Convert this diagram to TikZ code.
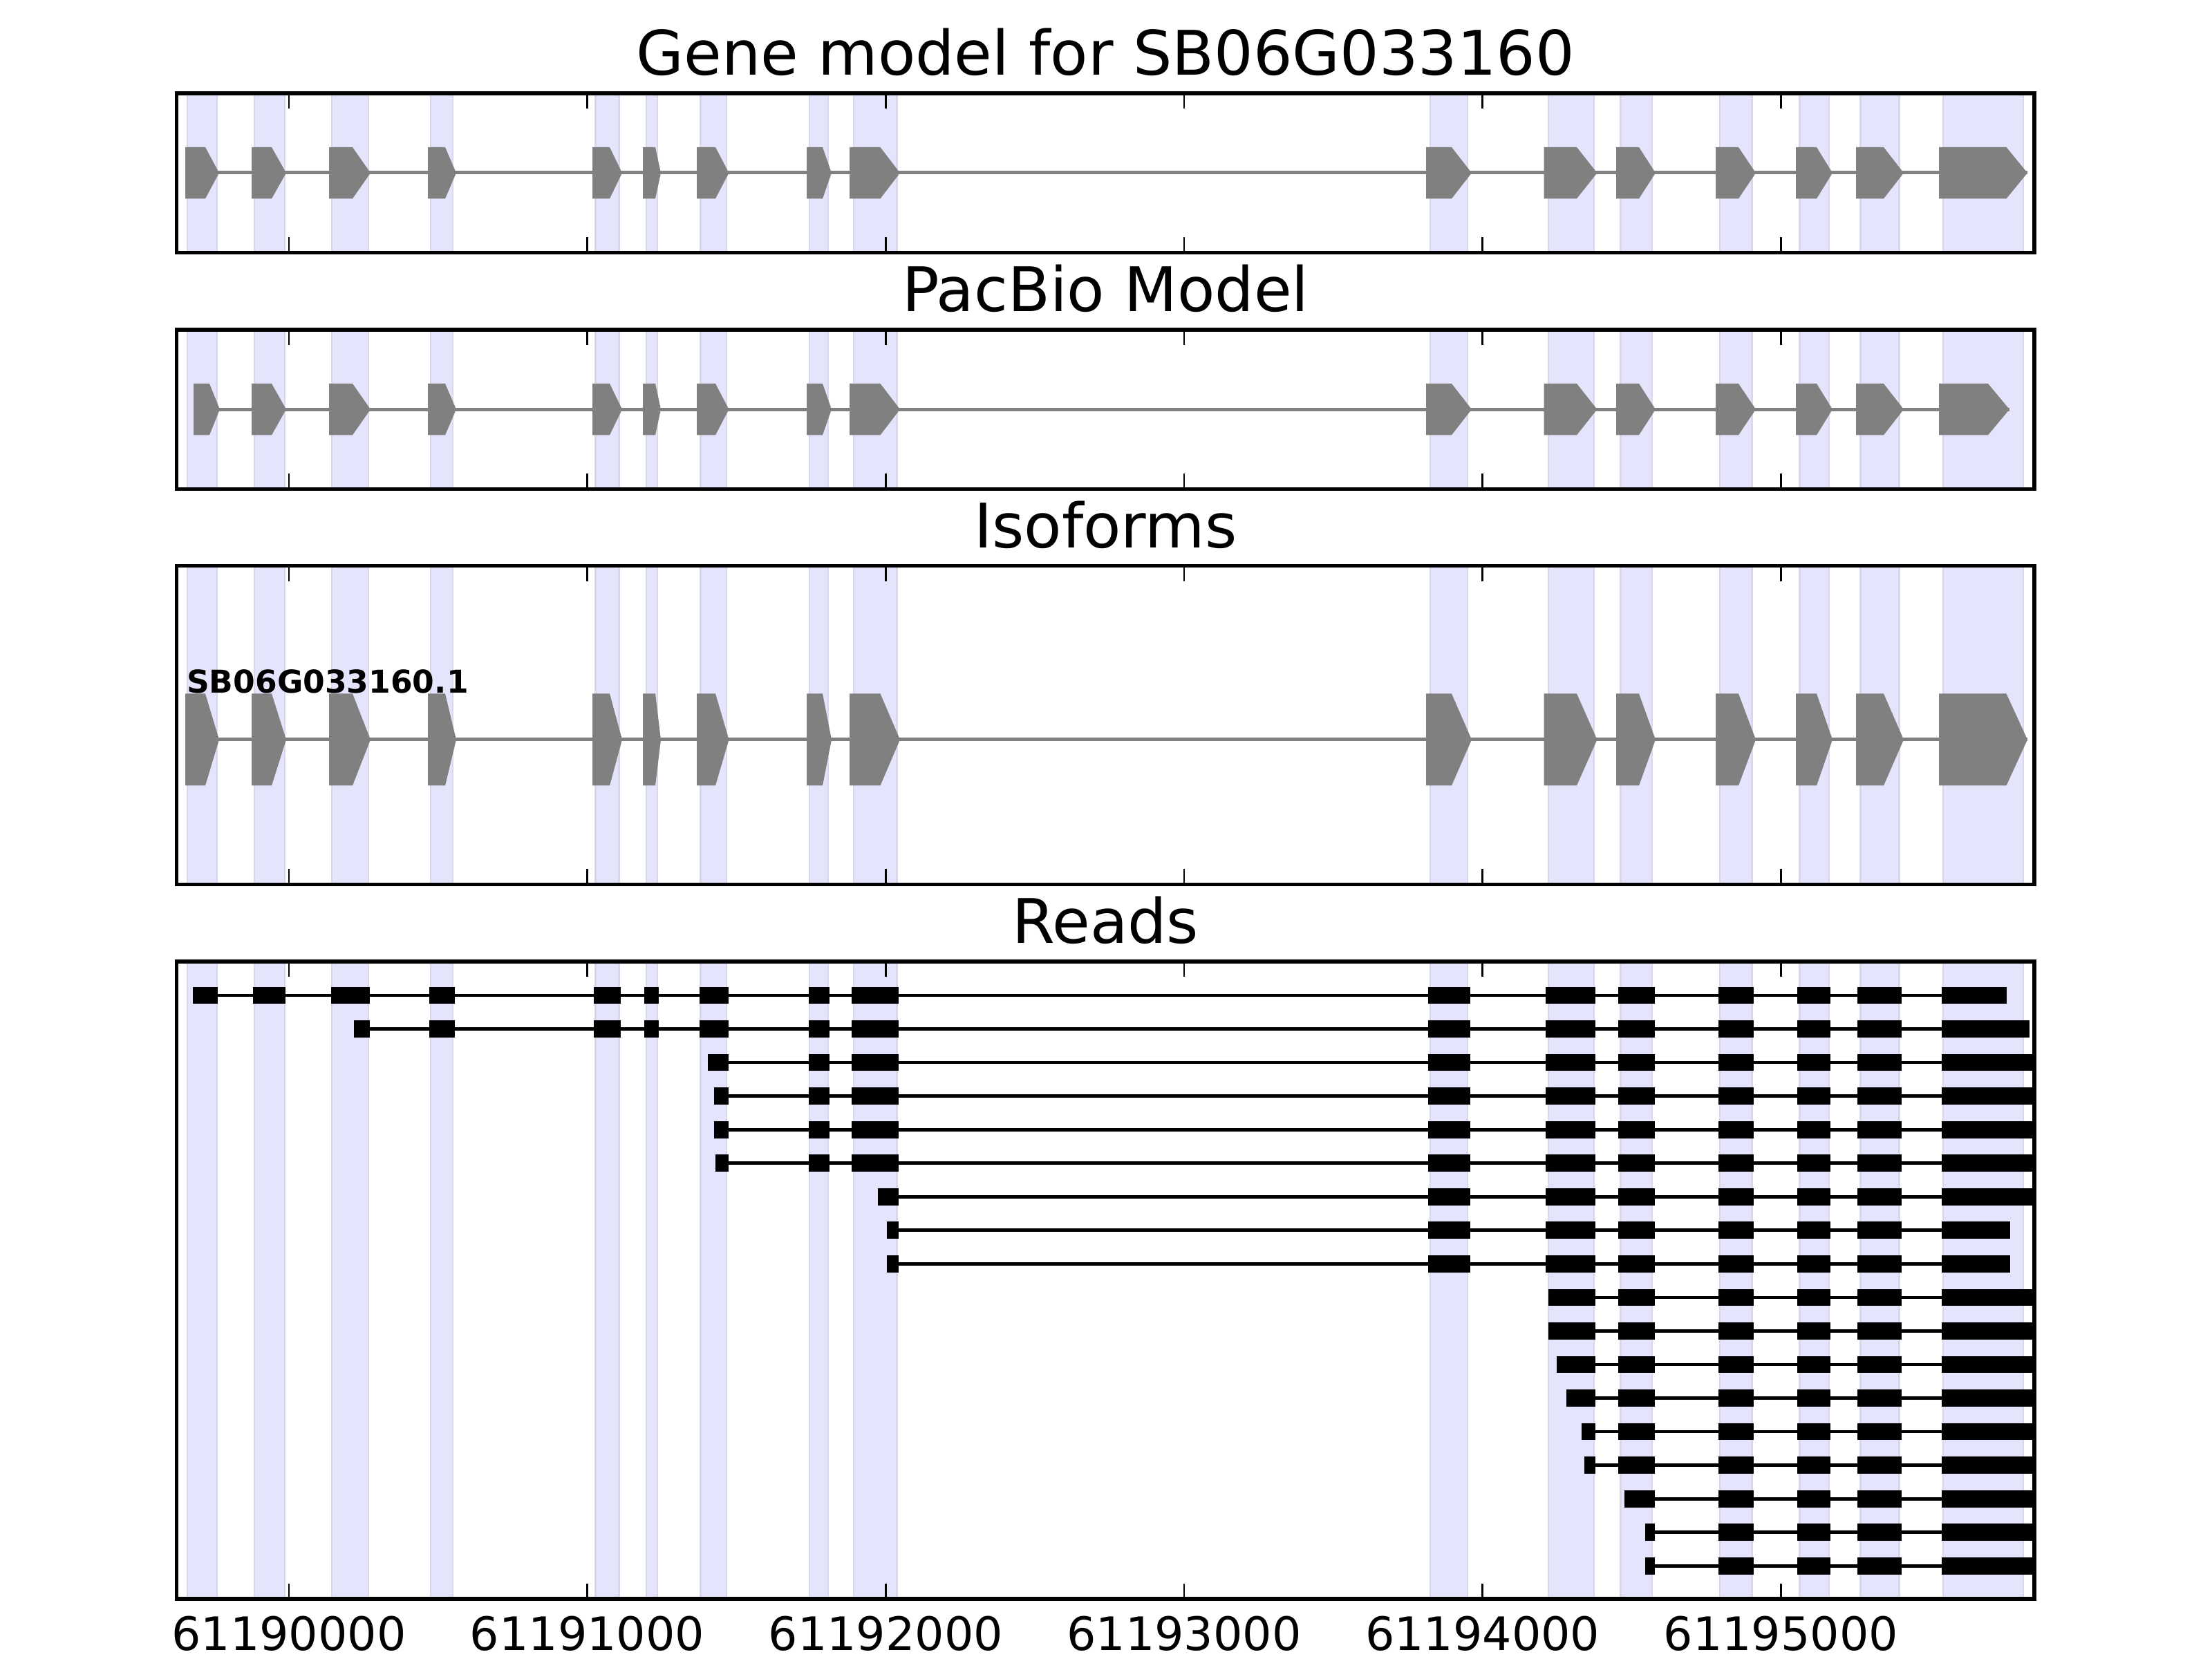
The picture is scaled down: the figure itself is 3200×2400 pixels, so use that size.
\documentclass[tikz,border=0pt]{standalone}
\usepackage{fontspec}
\setmainfont{DejaVu Sans}
\definecolor{bandfill}{HTML}{E4E4FC}
\definecolor{bandedge}{HTML}{D8D8EA}
\definecolor{exgrey}{HTML}{808080}
\newcommand\myexon[5]{\fill[exonshape] (#1,{#4-#5}) -- (#2,{#4-#5}) -- (#3,#4) -- (#2,{#4+#5}) -- (#1,{#4+#5}) -- cycle;}
\newcommand\myread[4]{%
  \draw[readline] (#2,#1) -- (#3,#1);
  \foreach \s/\e in {#4} {\fill[readblk] (\s,{#1-12.35}) rectangle (\e,{#1+12.35});}
}
\begin{document}
\begin{tikzpicture}[x=0.18bp,y=-0.18bp,
  band/.style={fill=bandfill,draw=bandedge,line width=0.45bp},
  exonshape/.style={fill=exgrey},
  intron/.style={draw=exgrey,line width=0.9bp},
  readline/.style={draw=black,line width=0.85bp},
  readblk/.style={fill=black},
  frame/.style={draw=black,line width=1bp},
  tickm/.style={draw=black,line width=0.5bp},
  ttl/.style={anchor=base,inner sep=0pt,font=\fontsize{16bp}{19bp}\selectfont},
  ticklab/.style={anchor=base,inner sep=0pt,font=\fontsize{12bp}{14bp}\selectfont},
  isolab/.style={anchor=base west,inner sep=0pt,font=\bfseries\fontsize{8.2bp}{10bp}\selectfont}]
\useasboundingbox (0,0) rectangle (3200,2400);
\fill[white] (0,0) rectangle (3200,2400);

% bands in every panel
\foreach \tp/\bt in {135/365.5, 476.8/707.3, 818.6/1279.6, 1391/2313} {
  \foreach \a/\b in {271/314, 368/412, 480/533, 623/655, 861.5/895.5, 935/951, 1013.5/1051, 1171/1198, 1235/1297.5, 2069/2123, 2240/2306, 2344.5/2390, 2488/2534.5, 2603.5/2646, 2691.5/2747.5, 2811/2927} {
    \filldraw[band] (\a,{\tp+1.5}) rectangle (\b,{\bt-1.5});
  }
}

% panel 1: gene model
\draw[intron] (268,250) -- (2933,250);
\foreach \a/\b/\c in {268/297/317, 364/393/414, 476/510/536, 619/644/660, 857/882/900, 930/948/956, 1008/1035/1054.5, 1167/1190/1203, 1229/1273.5/1302, 2063/2100/2129, 2233.5/2281/2310.5, 2338/2371/2395, 2482/2515/2540, 2598/2628/2651, 2685/2725/2754, 2805/2902.5/2933} {
  \myexon{\a}{\b}{\c}{250.2}{37.2}
}

% panel 2: PacBio model
\draw[intron] (280,592.2) -- (2907,592.2);
\foreach \a/\b/\c in {280/303/318, 364/393/414, 476/510/536, 619/644/660, 857/882/900, 930/948/956, 1008/1035/1054.5, 1167/1190/1203, 1229/1273.5/1302, 2063/2100/2129, 2233.5/2281/2310.5, 2338/2371/2395, 2482/2515/2540, 2598/2628/2651, 2685/2725/2754, 2805/2876/2907} {
  \myexon{\a}{\b}{\c}{592.2}{37.2}
}

% panel 3: isoforms
\draw[intron] (268,1070) -- (2933,1070);
\foreach \a/\b/\c in {268/297/317, 364/393/414, 476/510/536, 619/644/660, 857/882/900, 930/948/956, 1008/1035/1054.5, 1167/1190/1203, 1229/1273.5/1302, 2063/2100/2129, 2233.5/2281/2310.5, 2338/2371/2395, 2482/2515/2540, 2598/2628/2651, 2685/2725/2754, 2805/2902.5/2933} {
  \myexon{\a}{\b}{\c}{1070}{66.5}
}
\node[isolab] (iso) at (269,1003) {SB06G033160.1};

% panel 4: reads
\myread{1440}{278.6}{2902.6}{278.6/315.1, 366.3/413.3, 478.5/534.6, 620.9/658.1, 859.4/898, 932.4/953.4, 1011.7/1053.8, 1169.5/1199.7, 1232/1300, 2066/2126.6, 2236/2308, 2341/2394.4, 2486/2537.4, 2600/2648, 2687/2751, 2808.6/2902.6}
\myread{1488.55}{512.2}{2936}{512.2/534.6, 620.9/658.1, 859.4/898, 932.4/953.4, 1011.7/1053.8, 1169.5/1199.7, 1232/1300, 2066/2126.6, 2236/2308, 2341/2394.4, 2486/2537.4, 2600/2648, 2687/2751, 2808.6/2936}
\myread{1537.1}{1023.6}{2943}{1023.6/1053.8, 1169.5/1199.7, 1232/1300, 2066/2126.6, 2236/2308, 2341/2394.4, 2486/2537.4, 2600/2648, 2687/2751, 2808.6/2943}
\myread{1585.65}{1032.7}{2943}{1032.7/1053.8, 1169.5/1199.7, 1232/1300, 2066/2126.6, 2236/2308, 2341/2394.4, 2486/2537.4, 2600/2648, 2687/2751, 2808.6/2943}
\myread{1634.2}{1032.7}{2943}{1032.7/1053.8, 1169.5/1199.7, 1232/1300, 2066/2126.6, 2236/2308, 2341/2394.4, 2486/2537.4, 2600/2648, 2687/2751, 2808.6/2943}
\myread{1682.75}{1034.8}{2943}{1034.8/1053.8, 1169.5/1199.7, 1232/1300, 2066/2126.6, 2236/2308, 2341/2394.4, 2486/2537.4, 2600/2648, 2687/2751, 2808.6/2943}
\myread{1731.3}{1270}{2943}{1270/1300, 2066/2126.6, 2236/2308, 2341/2394.4, 2486/2537.4, 2600/2648, 2687/2751, 2808.6/2943}
\myread{1779.85}{1283}{2908.4}{1283/1300, 2066/2126.6, 2236/2308, 2341/2394.4, 2486/2537.4, 2600/2648, 2687/2751, 2808.6/2908.4}
\myread{1828.4}{1283}{2908.4}{1283/1300, 2066/2126.6, 2236/2308, 2341/2394.4, 2486/2537.4, 2600/2648, 2687/2751, 2808.6/2908.4}
\myread{1876.95}{2239.8}{2943}{2239.8/2308, 2341/2394.4, 2486/2537.4, 2600/2648, 2687/2751, 2808.6/2943}
\myread{1925.5}{2239.8}{2943}{2239.8/2308, 2341/2394.4, 2486/2537.4, 2600/2648, 2687/2751, 2808.6/2943}
\myread{1974.05}{2252}{2943}{2252/2308, 2341/2394.4, 2486/2537.4, 2600/2648, 2687/2751, 2808.6/2943}
\myread{2022.6}{2265.6}{2943}{2265.6/2308, 2341/2394.4, 2486/2537.4, 2600/2648, 2687/2751, 2808.6/2943}
\myread{2071.15}{2288.2}{2943}{2288.2/2308, 2341/2394.4, 2486/2537.4, 2600/2648, 2687/2751, 2808.6/2943}
\myread{2119.7}{2292}{2943}{2292/2308, 2341/2394.4, 2486/2537.4, 2600/2648, 2687/2751, 2808.6/2943}
\myread{2168.25}{2350}{2943}{2350/2394.4, 2486/2537.4, 2600/2648, 2687/2751, 2808.6/2943}
\myread{2216.8}{2380.3}{2943}{2380.3/2394.4, 2486/2537.4, 2600/2648, 2687/2751, 2808.6/2943}
\myread{2265.35}{2380.3}{2943}{2380.3/2394.4, 2486/2537.4, 2600/2648, 2687/2751, 2808.6/2943}

% frames and ticks
\foreach \tp/\bt in {135/365.5, 476.8/707.3, 818.6/1279.6, 1391/2313} {
  \draw[frame] (255.6,\tp) rectangle (2943,\bt);
  \foreach \x in {417.9,849.6,1281.3,1713,2144.7,2576.4} {
    \draw[tickm] (\x,\tp) -- ++(0,22.2);
    \draw[tickm] (\x,\bt) -- ++(0,-22.2);
  }
}

% titles
\node[ttl] (t1) at (1599.3,109) {Gene model for SB06G033160};
\node[ttl] (t2) at (1599.3,450.8) {PacBio Model};
\node[ttl] (t3) at (1599.3,792.6) {Isoforms};
\node[ttl] (t4) at (1599.3,1365) {Reads};

% axis labels
\node[ticklab] (l0) at (417.9,2388) {61190000};
\node[ticklab] (l1) at (849.6,2388) {61191000};
\node[ticklab] (l2) at (1281.3,2388) {61192000};
\node[ticklab] (l3) at (1713,2388) {61193000};
\node[ticklab] (l4) at (2144.7,2388) {61194000};
\node[ticklab] (l5) at (2576.4,2388) {61195000};
\end{tikzpicture}
\end{document}
